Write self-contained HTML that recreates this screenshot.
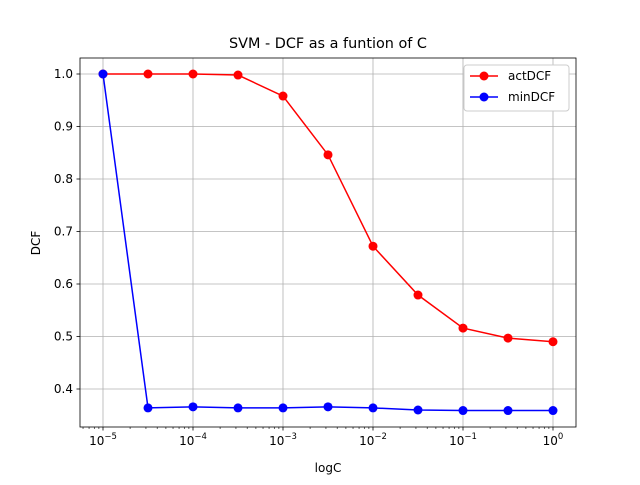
<!DOCTYPE html>
<html><head><meta charset="utf-8"><style>
body{margin:0;background:#fff}
svg text{font-family:"DejaVu Sans","Liberation Sans",sans-serif;fill:#000}
</style></head><body>
<svg id="chart" width="640" height="480" xmlns="http://www.w3.org/2000/svg">
<rect width="640" height="480" fill="#fff"/>
<g id="grid"></g><g id="axes"></g><g id="series"></g>
<text x="328" y="48" font-size="14.4" text-anchor="middle">SVM - DCF as a funtion of C</text>
<text x="328" y="472" font-size="12" text-anchor="middle">logC</text>
<text transform="translate(40,243) rotate(-90)" font-size="12" text-anchor="middle">DCF</text>
<g>
<rect x="464" y="65" width="105" height="46" rx="3" fill="#fff" stroke="#ccc"/>
<g><line x1="470" y1="76" x2="498" y2="76" stroke="red" stroke-width="1.5"/><circle cx="484" cy="76" r="4.5" fill="red"/><text x="508" y="80" font-size="12">actDCF</text></g>
<g><line x1="470" y1="97" x2="498" y2="97" stroke="blue" stroke-width="1.5"/><circle cx="484" cy="97" r="4.5" fill="blue"/><text x="508" y="101" font-size="12">minDCF</text></g>
</g>
</svg>
<script>
const cExps=[-5,-4.5,-4,-3.5,-3,-2.5,-2,-1.5,-1,-0.5,0];
const actDCF=[1.0,1.0,1.0,0.998,0.958,0.846,0.672,0.579,0.516,0.497,0.490];
const minDCF=[1.0,0.364,0.366,0.364,0.364,0.366,0.364,0.360,0.359,0.359,0.359];
const yTicks=[0.4,0.5,0.6,0.7,0.8,0.9,1.0];
const xTicks=[-5,-4,-3,-2,-1,0];
const L=80,R=576,T=58,B=427;
const xs=e=>103+(e+5)*90;
const ys=v=>74+(1-v)*525;
const NS="http://www.w3.org/2000/svg";
function mk(p,t,a){const e=document.createElementNS(NS,t);for(const k in a)e.setAttribute(k,a[k]);p.appendChild(e);return e;}
const grid=document.getElementById('grid'),axes=document.getElementById('axes'),ser=document.getElementById('series');
xTicks.forEach(e=>{const x=xs(e);
const g=mk(grid,'line',{x1:x,x2:x,y1:T,y2:B,stroke:'#b0b0b0','stroke-width':0.8});


mk(axes,'line',{x1:x,x2:x,y1:B,y2:B+3.5,stroke:'#000','stroke-width':0.8});
const t=mk(axes,'text',{x:x,y:B+18,'font-size':12,'text-anchor':'middle'});


t.innerHTML='10<tspan dy="-6" font-size="8.5">'+(e<0?'\u2212'+(-e):e)+'</tspan>';
});
for(let d=-6;d<=0;d++)for(let m=2;m<10;m++){const x=xs(d+Math.log10(m));if(x>L&&x<R)mk(axes,'line',{x1:x,x2:x,y1:B,y2:B+2,stroke:'#000','stroke-width':0.6});}
yTicks.forEach(v=>{const y=ys(v);
const g=mk(grid,'line',{x1:L,x2:R,y1:y,y2:y,stroke:'#b0b0b0','stroke-width':0.8});


mk(axes,'line',{x1:L-3.5,x2:L,y1:y,y2:y,stroke:'#000','stroke-width':0.8});
const t=mk(axes,'text',{x:L-7,y:y+4,'font-size':12,'text-anchor':'end'});


t.textContent=v.toFixed(1);
});
mk(axes,'rect',{x:L,y:T,width:R-L,height:B-T,fill:'none',stroke:'#000','stroke-width':0.8});
function draw(vals,col,name){
const p=mk(ser,'polyline',{points:vals.map((v,i)=>xs(cExps[i])+','+ys(v)).join(' '),fill:'none',stroke:col,'stroke-width':1.5});


vals.forEach((v,i)=>{const c=mk(ser,'circle',{cx:xs(cExps[i]),cy:ys(v),r:4.5,fill:col});

});
}
draw(actDCF,'red','actdcf');
draw(minDCF,'blue','mindcf');
</script>
</body></html>
